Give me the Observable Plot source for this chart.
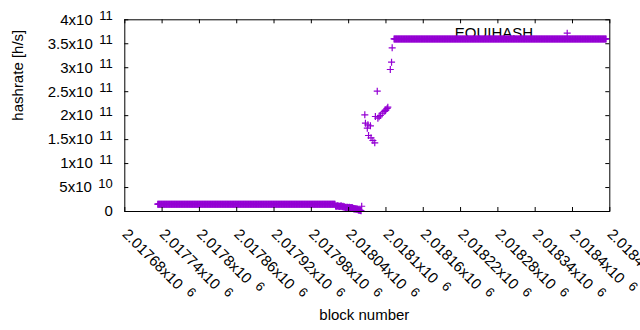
<!DOCTYPE html>
<html><head><meta charset="utf-8">
<script src="https://cdn.jsdelivr.net/npm/d3@7"></script>
<script src="https://cdn.jsdelivr.net/npm/@observablehq/plot@0.6"></script>
<style>html,body{margin:0;padding:0;background:#fff;}</style>
</head><body><div id="chart"></div>
<script>
// ---- data ----
const seriesName = "EQUIHASH";
// flat plateaus: one point per block, constant hashrate
const plateauStart = [2017733, 2018113];
const plateauEnd   = [2018018, 2018454];
const plateauRate  = [1.52e10, 3.60e11];
// the sagging tail at the end of the low plateau
const tailBlocks = [2018019,2018020,2018021,2018022,2018023,2018024,2018025,2018026,
  2018027,2018028,2018029,2018030,2018031,2018032,2018033,
  2018034,2018035,2018036,2018037,2018038,2018039,2018040,2018041,2018042,2018043,2018044,2018045,2018046,2018047,
  2018048,2018049,2018050,2018051,2018052,2018053,2018054,
  2018055,2018056,2018057,2018058,2018059,2018060,2018061];
const tailRates = [1.15e10,1.1e10,1.15e10,1.2e10,1.1e10,1.15e10,1.05e10,1.1e10,
  1.1e10,1.2e10,1.05e10,1.0e10,1.1e10,0.95e10,1.0e10,
  0.9e10,0.85e10,0.9e10,0.8e10,0.9e10,0.85e10,0.8e10,0.9e10,0.85e10,0.8e10,0.75e10,0.85e10,0.8e10,0.7e10,
  0.6e10,0.55e10,0.6e10,0.5e10,0.55e10,0.45e10,0.5e10,
  0.35e10,0.3e10,0.25e10,0.3e10,0.2e10,0.15e10,1.1e10];
// scattered points of the jump
const jumpBlocks = [2018066,2018067,2018070,2018071,2018072,2018075,2018076,2018079,2018082,2018083,
  2018086,2018087,2018089,2018091,2018094,2018097,2018099,2018100,2018102,2018103,2018107,2018109,2018110];
const jumpRates = [2.018e11,1.842e11,1.738e11,1.809e11,1.586e11,1.788e11,1.538e11,1.481e11,1.433e11,1.982e11,
  2.510e11,1.947e11,1.975e11,2.003e11,2.051e11,2.087e11,2.105e11,2.122e11,2.150e11,2.176e11,2.963e11,3.115e11,3.416e11];

const xTicks = [2017680,2017740,2017800,2017860,2017920,2017980,2018040,2018100,2018160,2018220,2018280,2018340,2018400,2018460];
const xTickMantissa = ["2.01768","2.01774","2.0178","2.01786","2.01792","2.01798","2.01804","2.0181","2.01816","2.01822","2.01828","2.01834","2.0184","2.01846"];
const xTickExp = "6";
const yTicks = [0,5e10,1e11,1.5e11,2e11,2.5e11,3e11,3.5e11,4e11];
const yTickMantissa = ["0","5","1","1.5","2","2.5","3","3.5","4"];
const yTickExp = ["","10","11","11","11","11","11","11","11"];

// ---- build table ----
const points = [];
plateauStart.forEach((s, k) => { for (let b = s; b <= plateauEnd[k]; b++) points.push({block: b, rate: plateauRate[k]}); });
tailBlocks.forEach((b, i) => points.push({block: b, rate: tailRates[i]}));
jumpBlocks.forEach((b, i) => points.push({block: b, rate: jumpRates[i]}));
points.sort((a, b) => a.block - b.block);

const W = 640, H = 330, mL = 124.3, mR = 30.7, mT = 19.3, mB = 119;
const fh = H - mT - mB, fw = W - mL - mR;
const color = "#9400d3", tick = 4, rDot = 2.4;

const chart = Plot.plot({
  width: W, height: H, marginLeft: mL, marginRight: mR, marginTop: mT, marginBottom: mB,
  style: {fontFamily: '"Liberation Sans", Arial, sans-serif', fontSize: "15px", background: "#fff", color: "#000", overflow: "visible"},
  x: {domain: [xTicks[0], xTicks[xTicks.length - 1]]},
  y: {domain: [0, 4e11]},
  marks: [
    Plot.text([seriesName], {frameAnchor: "top-right", textAnchor: "end", lineAnchor: "middle", dx: -76.6, dy: 13.2, fill: "black"}),
    Plot.dot([0], {x: null, y: null, frameAnchor: "top-right", dx: -42.6, dy: 13.4, symbol: "plus", r: rDot, stroke: color, strokeWidth: 1.2}),
    Plot.dot(points, {x: "block", y: "rate", symbol: "plus", r: rDot, stroke: color, strokeWidth: 1.2}),
    Plot.ruleX(xTicks, {insetTop: fh - tick, stroke: "black"}),
    Plot.ruleX(xTicks, {insetBottom: fh - tick, stroke: "black"}),
    Plot.ruleY(yTicks, {insetRight: fw - tick, stroke: "black"}),
    Plot.ruleY(yTicks, {insetLeft: fw - tick, stroke: "black"}),
    Plot.frame({stroke: "black"}),
    Plot.axisX(xTicks, {tickSize: 0, tickPadding: 20, tickRotate: 45, textAnchor: "start", lineAnchor: "middle",
      tickFormat: d => xTickMantissa[xTicks.indexOf(d)] + "x10", label: null}),
    Plot.axisY(yTicks, {tickSize: 0, tickPadding: 12,
      tickFormat: d => { const i = yTicks.indexOf(d); return yTickExp[i] ? yTickMantissa[i] + "x10" : yTickMantissa[i]; }, label: null}),
    Plot.text(["block number"], {frameAnchor: "bottom", dy: 104, dx: -3, lineAnchor: "middle", fill: "black"}),
    Plot.text(["hashrate [h/s]"], {frameAnchor: "left", rotate: -90, dx: -106.8, dy: 5, lineAnchor: "middle", fill: "black"})
  ]
});
document.getElementById("chart").appendChild(chart);

// superscript exponents
d3.select(chart).selectAll('g[aria-label="x-axis tick label"] text').each(function () {
  d3.select(this).append("tspan").attr("dx", 8).attr("dy", -4.5).attr("font-size", 13).text(xTickExp);
});
d3.select(chart).selectAll('g[aria-label="y-axis tick label"] text').each(function () {
  const t = this.textContent;
  const i = yTickMantissa.findIndex((m, k) => (yTickExp[k] ? m + "x10" : m) === t);
  if (i >= 0 && yTickExp[i]) d3.select(this).append("tspan").attr("dx", 6.5).attr("dy", -4.5).attr("font-size", 13).text(yTickExp[i]);
});
</script>
</body></html>
